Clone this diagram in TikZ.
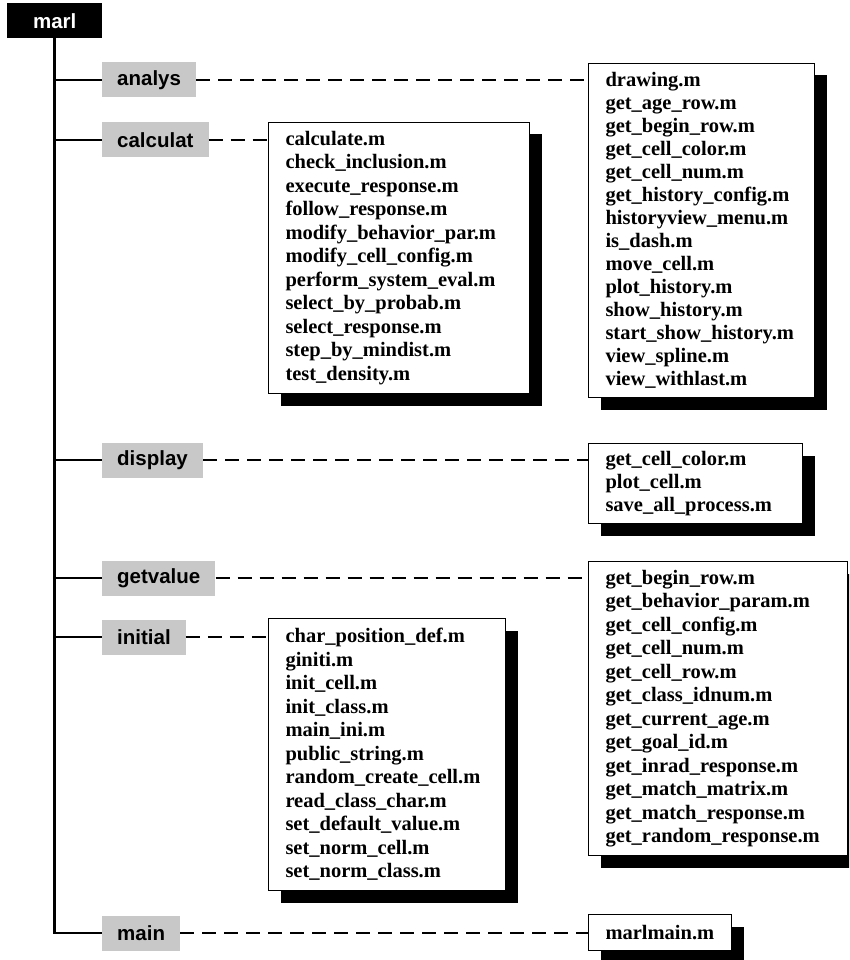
\documentclass[tikz,border=0pt]{standalone}
\usepackage{fontspec}
\setmainfont{Liberation Serif}
\newfontfamily\labelfont{Liberation Sans}
\usetikzlibrary{shadows}
\definecolor{dirgray}{RGB}{200,200,200}
\begin{document}
\begin{tikzpicture}[x=1pt,y=-1pt,
  rootbox/.style={fill=black, text=white, font=\labelfont\bfseries\fontsize{20.5}{24}\selectfont,
    minimum width=95pt, minimum height=35pt, inner sep=0pt, anchor=north west},
  dirbox/.style={fill=dirgray, font=\labelfont\bfseries\fontsize{20.5}{24}\selectfont,
    minimum height=35pt, inner xsep=15pt, inner ysep=0pt, anchor=west},
  filebox/.style={draw=black, line width=1pt, fill=white,
    font=\bfseries\fontsize{20.5}{#1}\selectfont, align=left, anchor=north west,
    inner xsep=17pt, inner ysep=0pt,
    drop shadow={shadow xshift=12pt, shadow yshift=-12pt, fill=black, opacity=1}},
  filebox/.default=23.5,
  trunk/.style={line width=2.6pt},
  link/.style={line width=2.6pt, dash pattern=on 14pt off 8pt},
]
\useasboundingbox (0,0) rectangle (849,960);
\clip (0,0) rectangle (849,960);

% root folder
\node[rootbox] (marl) at (7,3) {marl};

% sub folders
\node[dirbox] (analys)   at (102,80)  {analys};
\node[dirbox] (calculat) at (102,140) {calculat};
\node[dirbox] (display)  at (102,460) {display};
\node[dirbox] (getvalue) at (102,578) {getvalue};
\node[dirbox] (initial)  at (102,637) {initial};
\node[dirbox] (main)     at (102,933) {main};

% file lists
\node[filebox=23, text width=192pt, minimum height=334pt] (analysfiles) at (588,63) {%
drawing.m\\ get\_age\_row.m\\ get\_begin\_row.m\\ get\_cell\_color.m\\ get\_cell\_num.m\\
get\_history\_config.m\\ historyview\_menu.m\\ is\_dash.m\\ move\_cell.m\\ plot\_history.m\\
show\_history.m\\ start\_show\_history.m\\ view\_spline.m\\ view\_withlast.m};

\node[filebox, text width=227pt, minimum height=271pt] (calculatfiles) at (268,122) {%
calculate.m\\ check\_inclusion.m\\ execute\_response.m\\ follow\_response.m\\
modify\_behavior\_par.m\\ modify\_cell\_config.m\\ perform\_system\_eval.m\\
select\_by\_probab.m\\ select\_response.m\\ step\_by\_mindist.m\\ test\_density.m};

\node[filebox=23, text width=180pt, minimum height=80pt] (displayfiles) at (588,443) {%
get\_cell\_color.m\\ plot\_cell.m\\ save\_all\_process.m};

\node[filebox, text width=225pt, minimum height=294pt] (getvaluefiles) at (588,561) {%
get\_begin\_row.m\\ get\_behavior\_param.m\\ get\_cell\_config.m\\ get\_cell\_num.m\\
get\_cell\_row.m\\ get\_class\_idnum.m\\ get\_current\_age.m\\ get\_goal\_id.m\\
get\_inrad\_response.m\\ get\_match\_matrix.m\\ get\_match\_response.m\\ get\_random\_response.m};

\node[filebox, text width=203pt, minimum height=272pt] (initialfiles) at (268,618) {%
char\_position\_def.m\\ giniti.m\\ init\_cell.m\\ init\_class.m\\ main\_ini.m\\
public\_string.m\\ random\_create\_cell.m\\ read\_class\_char.m\\ set\_default\_value.m\\
set\_norm\_cell.m\\ set\_norm\_class.m};

\node[filebox, text width=109pt, minimum height=36pt] (mainfiles) at (588,914) {marlmain.m};

% tree trunk and branches
\draw[trunk] (marl.south) -- (marl.south |- main.west) -- (main.west);
\foreach \d in {analys,calculat,display,getvalue,initial}
  \draw[trunk] (marl.south |- \d.west) -- (\d.west);

% dashed links to the file lists
\foreach \d in {analys,calculat,display,getvalue,initial,main}
  \draw[link] (\d.east) -- (\d files.west |- \d.east);
\end{tikzpicture}
\end{document}
